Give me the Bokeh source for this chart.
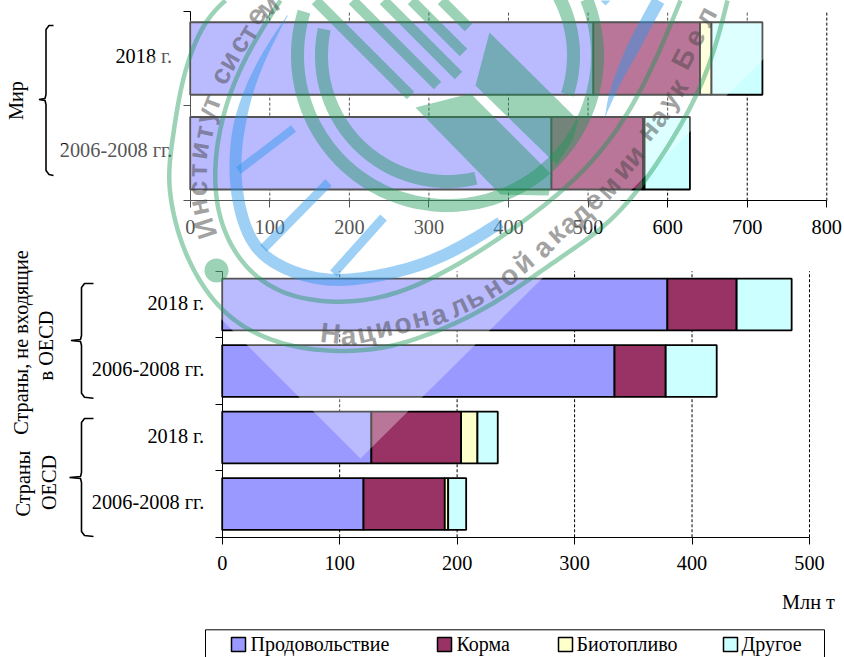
import numpy as np
from bokeh.plotting import figure
from bokeh.models import ColumnDataSource, Range1d, LinearAxis, FixedTicker
from bokeh.core.properties import value
from bokeh.embed import file_html
from bokeh.resources import INLINE

# ---------- data ----------
series = ["Продовольствие", "Корма", "Биотопливо", "Другое"]
colors = ["#9999FF", "#993366", "#FFFFCC", "#CCFFFF"]

world_cats = ["2006-2008 гг.", "2018 г."]
world_food = [454, 506.7]
world_feed = [115, 134]
world_bio = [2, 14.4]
world_other = [57, 64]

group_cats = ["2006-2008 гг.", "2018 г.", "2006-2008 гг.", "2018 г."]
group_food = [120.3, 127, 334, 379]
group_feed = [69.2, 76.4, 43.6, 59]
group_bio = [2.9, 13.9, 0, 0]
group_other = [15.3, 17.3, 43.4, 46.8]

world_ticks = [0, 100, 200, 300, 400, 500, 600, 700, 800]
group_ticks = [0, 100, 200, 300, 400, 500]

SERIF = "Liberation Serif"
FS = "20.3px"
LEFT, TOP, W, H = 0, 0, 844, 657

p = figure(width=W, height=H, output_backend="svg", toolbar_location=None, tools="",
           x_range=Range1d(LEFT, LEFT + W), y_range=Range1d(TOP + H, TOP),
           x_axis_type=None, y_axis_type=None, min_border=0, outline_line_color=None)
p.grid.visible = False


def x_map(px0, px_per):
    return Range1d((LEFT - px0) / px_per, (LEFT + W - px0) / px_per)


def y_map(px0, px_per):
    return Range1d((px0 - (TOP + H)) / px_per, (px0 - TOP) / px_per)


p.extra_x_ranges = {"xt": x_map(189.7, 0.79575), "xb": x_map(221.7, 1.1746)}
p.extra_y_ranges = {"yt": y_map(152.75, 94.75), "yb": y_map(503.5, 66.5)}


def chart(xn, yn, cats, values, ticks, height):
    n = len(cats)
    lo, hi = -0.5, n - 0.5
    # dashed gridlines
    p.segment(x0=ticks[1:], x1=ticks[1:], y0=[lo] * (len(ticks) - 1), y1=[hi] * (len(ticks) - 1),
              line_color="black", line_width=1, line_dash="3 2", x_range_name=xn, y_range_name=yn)
    data = {"y": list(range(n))}
    data.update({s: v for s, v in zip(series, values)})
    p.hbar_stack(series, y="y", height=height, color=colors, line_color="black", line_width=1.8,
                 source=ColumnDataSource(data), x_range_name=xn, y_range_name=yn)
    # x axis
    ax = LinearAxis(x_range_name=xn, y_range_name=yn, fixed_location=lo, ticker=FixedTicker(ticks=ticks),
                    major_label_text_font=SERIF, major_label_text_font_size=FS, major_label_text_color="black",
                    major_tick_in=0, major_tick_out=7, minor_tick_line_color=None,
                    major_label_standoff=12, bounds=(ticks[0], ticks[-1]),
                    axis_line_color="black", major_tick_line_color="black")
    p.add_layout(ax, "below")
    # y axis: ticks on the boundaries
    b = [lo + i for i in range(n + 1)]
    ay = LinearAxis(x_range_name=xn, y_range_name=yn, fixed_location=0, ticker=FixedTicker(ticks=b),
                    major_label_overrides={v: "" for v in b}, major_tick_in=0, major_tick_out=7,
                    minor_tick_line_color=None, bounds=(lo, hi), axis_line_color="black",
                    major_tick_line_color="black")
    p.add_layout(ay, "left")
    # y axis: category labels, a little above the centres as in the reference
    c = [i + 0.03 for i in range(n)]
    al = LinearAxis(x_range_name=xn, y_range_name=yn, fixed_location=0, ticker=FixedTicker(ticks=c),
                    major_label_overrides={i: t for i, t in zip(c, cats)},
                    major_label_text_font=SERIF, major_label_text_font_size=FS, major_label_text_color="black",
                    major_tick_line_color=None, minor_tick_line_color=None, axis_line_color=None,
                    major_tick_in=0, major_tick_out=0, major_label_standoff=18)
    p.add_layout(al, "left")


chart("xt", "yt", world_cats, [world_food, world_feed, world_bio, world_other], world_ticks, 0.765)
chart("xb", "yb", group_cats, [group_food, group_feed, group_bio, group_other], group_ticks, 0.78)

# ---------- annotations ----------
def label(x, y, t, angle=0.0, align="center", size=FS):
    p.text(x=[x], y=[y], text=[t], angle=angle, text_font=value(SERIF), text_font_size=size,
           text_align=align, text_baseline="middle", text_color="black")


label(15, 100, "Мир", np.pi / 2)
label(20, 342, "Страны, не входящие", np.pi / 2)
label(45, 345, "в OECD", np.pi / 2)
label(22, 483, "Страны", np.pi / 2)
label(48, 482, "OECD", np.pi / 2)
label(808, 601, "Млн т")


def brace(x, y0, ym, y1, ex, nx):
    xs = [ex, x + 3, x, x, x - 1, nx, x - 1, x, x, x + 3, ex]
    ys = [y0, y0, y0 + 4, ym - 5, ym - 1, ym, ym + 1, ym + 5, y1 - 4, y1, y1 + 1]
    p.line(xs, ys, line_color="black", line_width=1.6)


brace(45.5, 25, 99, 174, 53, 38.5)
brace(81, 283, 340, 396.7, 93, 70.5)
brace(81, 418, 477, 535, 93, 69)

# legend
p.line([205, 205, 824, 824], [657, 629.3, 629.3, 657], line_color="black", line_width=1)
sw_x = [231, 437, 558, 723]
tx_x = [250, 456, 576, 741]
p.quad(left=sw_x, right=[v + 14 for v in sw_x], top=[637] * 4, bottom=[651] * 4,
       fill_color=colors, line_color="black", line_width=1.5)
for xx, s in zip(tx_x, series):
    label(xx, 643, s, align="left", size="20px")

# ---------- watermark (drawn over everything) ----------
GREEN, GA = (25, 150, 85), 0.43
BLUE, BA = (40, 150, 235), 0.45


def smooth(pts, n=14):
    P = np.array(pts, float)
    P = np.vstack([2 * P[0] - P[1], P, 2 * P[-1] - P[-2]])
    out = []
    for i in range(1, len(P) - 2):
        for t in np.linspace(0, 1, n, endpoint=False):
            a, b, c, d = P[i - 1], P[i], P[i + 1], P[i + 2]
            out.append(0.5 * (2 * b + (c - a) * t + (2 * a - 5 * b + 4 * c - d) * t ** 2 + (3 * b - a - 3 * c + d) * t ** 3))
    out.append(P[-2])
    Q = np.array(out)
    # two box-filter passes, ends pinned, to remove kinks between the read-off points
    k = np.ones(n) / n
    for _ in range(2):
        S = Q.copy()
        pad = np.vstack([np.repeat(Q[:1], n, axis=0), Q, np.repeat(Q[-1:], n, axis=0)])
        for j in range(2):
            S[:, j] = np.convolve(pad[:, j], k, mode="same")[n:-n]
        S[0], S[-1] = Q[0], Q[-1]
        Q = S
    return Q


def band(Q, w0, w1=None, taper=0.0, col=GREEN, alpha=GA):
    T = np.gradient(Q, axis=0)
    T /= np.hypot(T[:, 0], T[:, 1])[:, None]
    N = np.c_[-T[:, 1], T[:, 0]]
    u = np.linspace(0, 1, len(Q))
    w = np.full(len(Q), float(w0))
    if w1 is not None:
        w = w0 + (w1 - w0) * np.clip(u / taper, 0, 1)
    A, B = Q + N * w[:, None] / 2, Q - N * w[:, None] / 2
    P = np.vstack([A, B[::-1]])
    p.patch(P[:, 0], P[:, 1], fill_color=col, fill_alpha=alpha, line_color=None, level="overlay")


def ribbon(pts, w0, w1=None, taper=0.0, col=GREEN, alpha=GA):
    band(smooth(pts), w0, w1, taper, col, alpha)


def arc(cx, cy, r, a0, a1, w):
    t = np.radians(np.linspace(a0, a1, 120))
    band(np.c_[cx + r * np.cos(t), cy + r * np.sin(t)], w)


def poly(pts, col=GREEN, alpha=GA):
    P = np.array(pts, float)
    p.patch(P[:, 0], P[:, 1], fill_color=col, fill_alpha=alpha, line_color=None, level="overlay")


# white translucent lozenge
poly([(56, 154), (360, 458), (822, 0), (210, 0)], (255, 255, 255), 0.33)

# outer contour
ribbon([(225, 0), (203, 23), (183, 73), (173, 133), (168, 173), (172, 210), (187, 260), (222, 313), (270, 340),
        (317, 350), (367, 350), (413, 340), (477, 313), (527, 280), (570, 250), (620, 213), (670, 143), (707, 73),
        (727, 0)], 4.5)
# contour under the lettering
ribbon([(280, 0), (233, 77), (212, 167), (225, 240), (270, 290), (340, 303), (420, 287), (530, 217), (597, 157),
        (643, 87), (680, 0)], 4.5)
p.scatter([216], [270], size=24, fill_color=GREEN, fill_alpha=GA, line_color=None, level="overlay")

# inner rings
arc(447, 55, 150, 197, -22, 13)
arc(447, 55, 126, 192, 77, 13)
arc(447, 55, 126, 18, -29, 13)

# diagonal bands
for a, b in [((315, 0), (410, 95)), ((352, 0), (437, 85)), ((383, 0), (458, 75)), ((411, 0), (463, 52)), ((441, 0), (468, 27))]:
    band(np.array([a, b], float), 10.5)
poly([(489, 32), (475, 85), (556, 164), (572, 140), (578, 120)])
poly([(415, 107), (470, 93), (552, 175), (548, 195), (500, 194)])

# blue ring and strokes
ribbon([(287, 15), (250, 80), (232, 160), (245, 233), (273, 263), (320, 280), (370, 277), (437, 260), (500, 222)],
       1, 12, 0.2, BLUE, BA)
ribbon([(605, 115), (615, 83), (640, 33), (658, 0)], 1, 13, 0.6, BLUE, BA)
poly([(600, 0), (610, 0), (605, 5)], BLUE, BA)
for a, b, w in [((238, 170), (293, 128), 8), ((263, 248), (328, 182), 9), ((333, 273), (383, 217), 9)]:
    band(np.array([a, b], float), w, col=BLUE, alpha=BA)


def lettering(chars, centres):
    C = np.array(centres, float)
    d = np.gradient(C, axis=0)
    ang = np.arctan2(-d[:, 1], d[:, 0])
    p.text(C[:, 0], C[:, 1], text=list(chars), angle=ang, text_font=value("Liberation Sans"),
           text_font_style="bold", text_font_size="28px", text_align="center", text_baseline="middle",
           text_color="rgb(70,70,70)", text_alpha=0.5, level="overlay")


lettering("Институт", [(205, 228), (198, 207), (197, 188), (197, 170), (198, 150), (203, 132), (205, 115), (210, 102)])
lettering("систем", [(220, 75), (228, 60), (238, 43), (247, 32), (255, 15), (267, 6)])
lettering("Национальной", [(330, 333), (348, 335), (365, 332), (383, 327), (402, 323), (420, 317), (438, 314),
                           (458, 305), (474, 297), (492, 287), (508, 275), (523, 262)])
lettering("академии", [(542, 247), (555, 233), (568, 223), (580, 213), (593, 200), (608, 187), (622, 168), (633, 155)])
lettering("наук", [(647, 130), (658, 117), (668, 100), (677, 87)])
lettering("Бел", [(683, 58), (694, 37), (705, 16)])

open("out.html", "w").write(file_html(p, INLINE))
